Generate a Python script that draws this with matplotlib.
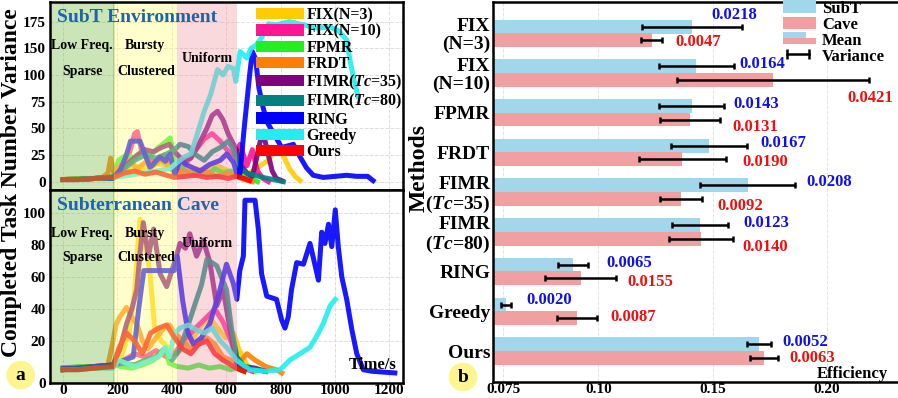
import matplotlib
matplotlib.use('Agg')
import matplotlib.pyplot as plt
from matplotlib.patches import Patch, Rectangle
from matplotlib.lines import Line2D
from matplotlib.legend_handler import HandlerBase

plt.rcParams['font.family'] = ['Liberation Serif', 'DejaVu Serif']
plt.rcParams['font.weight'] = 'bold'
plt.rcParams['mathtext.fontset'] = 'custom'
plt.rcParams['mathtext.rm'] = 'Liberation Serif:bold'
plt.rcParams['mathtext.it'] = 'Liberation Serif:italic:bold'
plt.rcParams['mathtext.bf'] = 'Liberation Serif:bold'

# ---- datos: metodos ----
methods = ['FIX(N=3)', 'FIX(N=10)', 'FPMR', 'FRDT', r'FIMR($\mathit{Tc}$=35)',
           r'FIMR($\mathit{Tc}$=80)', 'RING', 'Greedy', 'Ours']
method_ticks = ['FIX\n(N=3)', 'FIX\n(N=10)', 'FPMR', 'FRDT', 'FIMR\n($\\mathit{Tc}$=35)',
                'FIMR\n($\\mathit{Tc}$=80)', 'RING', 'Greedy', 'Ours']
colors = ['#FFCC00', '#FF1493', '#22EE22', '#FF8000', '#800080', '#008080',
          '#0000FF', '#22EEEE', '#FF0000']

# ---- SubT Environment (panel a, arriba) ----
fix3_subt_t = [0, 56, 115, 184, 224, 263, 302, 342, 381, 410, 450, 489, 529, 568, 607, 637, 666, 696, 725, 755, 774, 789, 809, 833, 853, 872]
fix3_subt_v = [2, 3, 3, 5, 10, 15, 12, 18, 14, 10, 8, 12, 10, 15, 10, 8, 5, 10, 15, 20, 28, 30, 25, 12, 5, 1]
fix10_subt_t = [0, 56, 115, 184, 224, 248, 263, 273, 288, 312, 342, 371, 401, 430, 460, 489, 519, 548, 578, 602, 627, 651, 676, 696, 715, 735, 755]
fix10_subt_v = [2, 3, 3, 5, 15, 30, 45, 47, 30, 20, 18, 25, 15, 10, 20, 30, 40, 45, 38, 30, 25, 35, 15, 30, 10, 3, 0]
fpmr_subt_t = [0, 56, 115, 184, 204, 233, 263, 292, 322, 351, 381, 394, 410, 440, 470, 499, 529, 558, 588, 617, 637, 666, 696, 715]
fpmr_subt_v = [2, 3, 3, 5, 20, 25, 22, 28, 25, 32, 38, 41, 20, 12, 8, 10, 6, 12, 8, 10, 6, 4, 2, 0]
frdt_subt_t = [0, 56, 115, 145, 165, 175, 184, 214, 243, 273, 302, 332, 361, 391, 410, 450, 489, 529, 568, 607, 637, 666, 696]
frdt_subt_v = [2, 2, 3, 4, 8, 22, 10, 16, 20, 12, 18, 15, 20, 14, 8, 10, 6, 9, 5, 8, 5, 2, 0]
fimr35_subt_t = [0, 56, 115, 184, 214, 243, 273, 302, 332, 361, 391, 410, 440, 470, 499, 529, 548, 568, 588, 607, 627, 637, 656, 676, 696, 710, 725, 740, 755, 769, 784, 804]
fimr35_subt_v = [2, 2, 3, 4, 12, 18, 25, 30, 28, 32, 35, 28, 20, 22, 35, 50, 62, 66, 58, 45, 35, 30, 15, 8, 5, 20, 38, 41, 25, 10, 3, 1]
fimr80_subt_t = [0, 56, 115, 184, 224, 263, 302, 342, 381, 410, 430, 460, 489, 519, 548, 578, 607, 627, 646, 676, 706, 735, 774, 810]
fimr80_subt_v = [2, 2, 3, 4, 12, 20, 25, 22, 26, 30, 35, 33, 25, 20, 28, 32, 38, 30, 12, 8, 6, 4, 2, 0]
ring_subt_t = [0, 56, 115, 184, 209, 233, 248, 283, 302, 320, 337, 356, 376, 394, 411, 430, 460, 504, 538, 578, 602, 627, 642, 651, 666, 676, 686, 696, 708, 720, 735, 750, 770, 804, 847, 872, 895, 920, 957, 1001, 1043, 1079, 1120, 1140]
ring_subt_v = [2, 2, 3, 3, 10, 25, 38, 38, 25, 13, 18, 23, 19, 26, 7, 20, 15, 10, 16, 20, 26, 18, 5, 8, 50, 75, 100, 122, 115, 88, 70, 56, 47, 32, 35, 23, 13, 6, 4, 5, 6, 5, 5, 1]
greedy_subt_t = [0, 56, 115, 184, 243, 292, 342, 391, 420, 445, 470, 494, 519, 543, 568, 588, 607, 627, 635, 651, 676, 691, 710, 730, 755, 784, 833, 883, 932, 981, 1010, 1043, 1055, 1070, 1085]
greedy_subt_v = [2, 2, 3, 4, 6, 8, 10, 12, 18, 23, 26, 45, 66, 82, 105, 100, 108, 106, 94, 122, 116, 125, 128, 135, 148, 147, 150, 147, 144, 145, 142, 133, 114, 95, 80]
ours_subt_t = [0, 56, 115, 184, 224, 263, 302, 342, 381, 410, 450, 489, 529, 568, 607, 637, 666, 686]
ours_subt_v = [2, 2, 3, 4, 8, 10, 7, 9, 6, 4, 5, 6, 4, 5, 3, 5, 3, 1]

# ---- Subterranean Cave (panel a, abajo) ----
fix3_cave_t = [0, 56, 115, 184, 214, 243, 263, 273, 283, 301, 320, 337, 361, 391, 420, 450, 479, 509, 538, 568, 597, 627, 646, 676, 706]
fix3_cave_v = [2, 3, 3, 5, 10, 25, 50, 75, 96, 83, 62, 28, 20, 15, 12, 18, 22, 30, 35, 28, 22, 25, 15, 5, 1]
fix10_cave_t = [0, 56, 115, 184, 224, 263, 302, 342, 381, 410, 440, 470, 499, 529, 558, 588, 617, 637, 666, 696]
fix10_cave_v = [2, 3, 3, 4, 8, 12, 10, 14, 10, 12, 20, 25, 30, 35, 40, 32, 20, 10, 3, 1]
fpmr_cave_t = [0, 56, 115, 184, 214, 253, 292, 332, 361, 376, 391, 420, 460, 499, 538, 578, 617, 637, 666]
fpmr_cave_v = [3, 4, 4, 5, 4, 3, 5, 8, 12, 15, 6, 4, 3, 5, 3, 4, 2, 3, 1]
frdt_cave_t = [0, 56, 115, 165, 184, 194, 209, 233, 253, 273, 292, 312, 342, 371, 391, 410, 440, 470, 499, 529, 558, 588, 617, 646, 676, 706, 745, 784, 804]
frdt_cave_v = [2, 3, 3, 5, 20, 30, 35, 41, 35, 30, 20, 15, 22, 28, 30, 25, 20, 15, 18, 22, 18, 10, 8, 6, 12, 8, 4, 2, 0]
fimr35_cave_t = [0, 56, 115, 184, 209, 234, 253, 271, 283, 295, 314, 333, 357, 381, 406, 430, 450, 466, 491, 516, 540, 565, 589, 614, 639, 666, 706, 745]
fimr35_cave_v = [2, 3, 4, 5, 15, 31, 40, 52, 75, 94, 73, 90, 62, 54, 67, 81, 78, 87, 73, 83, 69, 42, 52, 27, 6, 4, 3, 1]
fimr80_cave_t = [0, 56, 115, 184, 224, 263, 302, 342, 371, 401, 430, 460, 489, 509, 529, 565, 601, 620, 639, 666, 706, 745]
fimr80_cave_v = [2, 3, 4, 5, 6, 5, 8, 10, 15, 8, 15, 30, 45, 55, 71, 67, 52, 27, 10, 4, 2, 1]
ring_cave_t = [0, 56, 115, 184, 224, 258, 278, 297, 332, 371, 408, 420, 440, 460, 479, 509, 540, 577, 601, 626, 639, 650, 663, 669, 706, 718, 730, 749, 785, 804, 816, 828, 840, 859, 884, 908, 927, 939, 951, 963, 976, 988, 1001, 1012, 1025, 1043, 1062, 1080, 1104, 1138, 1220]
ring_cave_v = [3, 3, 4, 5, 8, 10, 40, 64, 64, 64, 64, 73, 45, 25, 18, 22, 31, 52, 68, 56, 46, 64, 73, 108, 108, 90, 62, 48, 46, 33, 28, 35, 52, 69, 68, 81, 67, 58, 88, 81, 93, 79, 102, 79, 60, 46, 27, 12, 2, 1, 0]
greedy_cave_t = [0, 56, 115, 184, 204, 233, 263, 292, 322, 351, 376, 391, 410, 430, 460, 489, 519, 548, 578, 607, 637, 686, 745, 798, 834, 871, 908, 933, 957, 982, 1001]
greedy_cave_v = [2, 2, 3, 3, 8, 6, 4, 6, 8, 10, 16, 10, 25, 28, 30, 27, 25, 28, 20, 15, 8, 2, 1, 2, 8, 12, 16, 23, 31, 42, 46]
ours_cave_t = [0, 56, 115, 184, 204, 233, 263, 292, 322, 351, 381, 410, 440, 470, 499, 529, 558, 588, 617, 637, 666]
ours_cave_v = [2, 2, 3, 4, 15, 25, 20, 12, 25, 28, 30, 22, 15, 12, 18, 20, 12, 8, 5, 3, 1]

# ---- panel b: eficiencia ----
subt_mean = [0.1409, 0.1428, 0.1409, 0.1486, 0.1654, 0.1445, 0.0888, 0.0596, 0.1705]
cave_mean = [0.1234, 0.1766, 0.1401, 0.1368, 0.1361, 0.1448, 0.0923, 0.0908, 0.1725]
subt_var = [0.0218, 0.0164, 0.0143, 0.0167, 0.0208, 0.0123, 0.0065, 0.0020, 0.0052]
cave_var = [0.0047, 0.0421, 0.0131, 0.0190, 0.0092, 0.0140, 0.0155, 0.0087, 0.0063]

subt_series = [(fix3_subt_t, fix3_subt_v), (fix10_subt_t, fix10_subt_v), (fpmr_subt_t, fpmr_subt_v),
               (frdt_subt_t, frdt_subt_v), (fimr35_subt_t, fimr35_subt_v), (fimr80_subt_t, fimr80_subt_v),
               (ring_subt_t, ring_subt_v), (greedy_subt_t, greedy_subt_v), (ours_subt_t, ours_subt_v)]
cave_series = [(fix3_cave_t, fix3_cave_v), (fix10_cave_t, fix10_cave_v), (fpmr_cave_t, fpmr_cave_v),
               (frdt_cave_t, frdt_cave_v), (fimr35_cave_t, fimr35_cave_v), (fimr80_cave_t, fimr80_cave_v),
               (ring_cave_t, ring_cave_v), (greedy_cave_t, greedy_cave_v), (ours_cave_t, ours_cave_v)]

W, H = 898, 398
fig = plt.figure(figsize=(W / 100, H / 100), dpi=100)
ax_top = fig.add_axes([50 / W, 1 - 190 / H, 353 / W, 188 / H])
ax_bot = fig.add_axes([50 / W, 1 - 383 / H, 353 / W, 193 / H])
ax_r = fig.add_axes([493 / W, 1 - 382 / H, 405 / W, 380 / H])

title_blue = '#1E64AA'
for ax, series, title, ylim in [(ax_top, subt_series, 'SubT Environment', (-7.8, 168.4)),
                                (ax_bot, cave_series, 'Subterranean Cave', (-6.3, 114.4))]:
    for (t, v), c in zip(series, colors):
        ax.plot(t, v, color=c, lw=3.6, alpha=0.9, zorder=3)
    # zonas sombreadas encima de las lineas
    ax.axvspan(-48, 186, fc='#7FBF4F', alpha=0.4, ec='#5E9A30', lw=1.2, zorder=5)
    ax.axvspan(186, 418, fc='#FFFF80', alpha=0.4, ec='none', zorder=5)
    ax.axvspan(418, 640, fc='#F0A0A8', alpha=0.4, ec='none', zorder=5)
    ax.set_xlim(-48, 1250)
    ax.set_ylim(*ylim)
    ax.set_xticks([0, 200, 400, 600, 800, 1000, 1200])
    ax.grid(True, color='#DDDDDD', ls='--', lw=0.7, zorder=0)
    ax.tick_params(length=0, labelsize=11, pad=3)
    for s in ax.spines.values():
        s.set_linewidth(1.8)
        s.set_zorder(8)
    ax.text(0.02, 0.92, title, transform=ax.transAxes, color=title_blue, fontsize=14,
            fontweight='bold', va='center', ha='left', zorder=10)

ax_top.set_yticks([0, 25, 50, 75, 100, 125, 150])
ax_top.set_yticklabels(['0', '25', '50', '75', '100', '150', '175'])
ax_top.set_xticklabels([])
ax_bot.set_yticks([-6.0, 20, 40, 60, 80, 100])
ax_bot.set_yticklabels(['0', '20', '40', '60', '80', '100'])
ax_bot.tick_params(axis='x', labelsize=11, pad=1)

# etiquetas de zonas
for ax, y1, y2, yu in [(ax_top, 0.771, 0.628, 0.702), (ax_bot, 0.777, 0.648, 0.725)]:
    kw = dict(transform=ax.transAxes, ha='center', va='center', fontsize=10, zorder=10)
    ax.text(0.091, y1, 'Low Freq.', **kw)
    ax.text(0.091, y2, 'Sparse', **kw)
    ax.text(0.269, y1, 'Bursty', **kw)
    ax.text(0.272, y2, 'Clustered', **kw)
    ax.text(0.446, yu, 'Uniform', **kw)

ax_bot.text(0.983, 0.05, 'Time/s', transform=ax_bot.transAxes, ha='right', va='bottom',
            fontsize=12, zorder=10)

leg = ax_top.legend(handles=[Patch(fc=c, ec='none') for c in colors], labels=methods,
                    loc='upper left', bbox_to_anchor=(206 / 353, 0.972), frameon=False,
                    fontsize=11.5, handlelength=3.0, handleheight=0.7, labelspacing=0.02,
                    handletextpad=0.15, borderaxespad=0, borderpad=0)
leg.set_zorder(20)

fig.text(12 / W, 1 - 183 / H, 'Completed Task Number Variance', rotation=90, fontsize=17,
         ha='center', va='center')
fig.text(20.7 / W, 1 - 375 / H, 'a', fontsize=14, ha='center', va='center',
         bbox=dict(boxstyle='circle,pad=0.3', fc='#FFF590', ec='none'))

# ---- panel b ----
subt_color = '#A0D7EB'
cave_color = '#F0A0A0'
ys = list(range(len(methods)))
bh = 0.35
y_sub = [y - 0.17 for y in ys]
y_cav = [y + 0.17 for y in ys]
ax_r.barh(y_sub, subt_mean, height=bh, color=subt_color, zorder=2)
ax_r.barh(y_cav, cave_mean, height=bh, color=cave_color, zorder=2)
ax_r.errorbar(subt_mean, y_sub, xerr=subt_var, fmt='none', ecolor='black', elinewidth=1.8,
              capsize=2.5, capthick=1.8, zorder=3)
ax_r.errorbar(cave_mean, y_cav, xerr=cave_var, fmt='none', ecolor='black', elinewidth=1.8,
              capsize=2.5, capthick=1.8, zorder=3)

subt_nudge = [(-30, -12), (6, -2), (9, -2), (13, -3), (11, -3), (15, -2), (19, -2), (16, -5), (11, -2)]
cave_nudge = [(13, 2), (-22, 18), (13, 7), (17, 3), (16, 7), (10, 8), (11, 4), (13, -1), (11, 0)]
for i in ys:
    dx, dy = subt_nudge[i]
    ax_r.annotate(f'{subt_var[i]:.4f}', xy=(subt_mean[i] + subt_var[i], y_sub[i]),
                  xytext=(dx, -dy), textcoords='offset pixels', ha='left', va='center',
                  color='#1010E8', fontsize=12, fontweight='bold', zorder=4)
    dx, dy = cave_nudge[i]
    ax_r.annotate(f'{cave_var[i]:.4f}', xy=(cave_mean[i] + cave_var[i], y_cav[i]),
                  xytext=(dx, -dy), textcoords='offset pixels', ha='left', va='center',
                  color='#EE1010', fontsize=12, fontweight='bold', zorder=4)

ax_r.set_xlim(0.0539, 0.2312)
ax_r.set_ylim(8.78, -0.79)
ax_r.set_yticks(ys)
ax_r.set_yticklabels(method_ticks, fontsize=14, linespacing=1.05)
ax_r.set_xticks([0.0584, 0.10, 0.15, 0.20])
ax_r.set_xticklabels(['0.075', '0.10', '0.15', '0.20'], fontsize=11)
ax_r.tick_params(length=0, pad=2)
ax_r.tick_params(axis='x', pad=1)
ax_r.grid(True, axis='x', color='#E4E4E4', ls='--', lw=0.7, zorder=0)
for s in ax_r.spines.values():
    s.set_linewidth(1.8)
ax_r.spines['right'].set_visible(False)
ax_r.text(0.975, 0.0, 'Efficiency', transform=ax_r.transAxes, ha='right', va='bottom',
          fontsize=12)


class MeanHandler(HandlerBase):
    def create_artists(self, legend, orig, xd, yd, w, h, fs, trans):
        top = Rectangle((xd, yd + h / 2), w * 0.7, h / 2, fc=subt_color, ec='none', transform=trans)
        bot = Rectangle((xd, yd), w, h / 2, fc=cave_color, ec='none', transform=trans)
        return [top, bot]


class VarHandler(HandlerBase):
    def create_artists(self, legend, orig, xd, yd, w, h, fs, trans):
        y = yd + h / 2
        x0, x1 = xd + w * 0.12, xd + w * 0.78
        bar = Line2D([x0, x1], [y, y], color='black', lw=1.8, transform=trans)
        caps = Line2D([x0, x1], [y, y], ls='', marker='|', ms=7, mew=1.8, color='black',
                      transform=trans)
        return [bar, caps]


mean_key = Rectangle((0, 0), 1, 1)
var_key = Line2D([], [])
ax_r.legend(handles=[Patch(fc=subt_color, ec='none'), Patch(fc=cave_color, ec='none'), mean_key, var_key],
            labels=['SubT', 'Cave', 'Mean', 'Variance'],
            handler_map={mean_key: MeanHandler(), var_key: VarHandler()},
            loc='upper left', bbox_to_anchor=(0.716, 1.004), frameon=False, fontsize=12,
            handlelength=2.0, handleheight=0.8, labelspacing=0.0, handletextpad=0.35,
            borderaxespad=0, borderpad=0)

fig.text(419 / W, 1 - 168 / H, 'Methods', rotation=90, fontsize=17, ha='center', va='center')
fig.text(463 / W, 1 - 377 / H, 'b', fontsize=14, ha='center', va='center',
         bbox=dict(boxstyle='circle,pad=0.3', fc='#FFF590', ec='none'))

fig.savefig('out.png', dpi=100)
